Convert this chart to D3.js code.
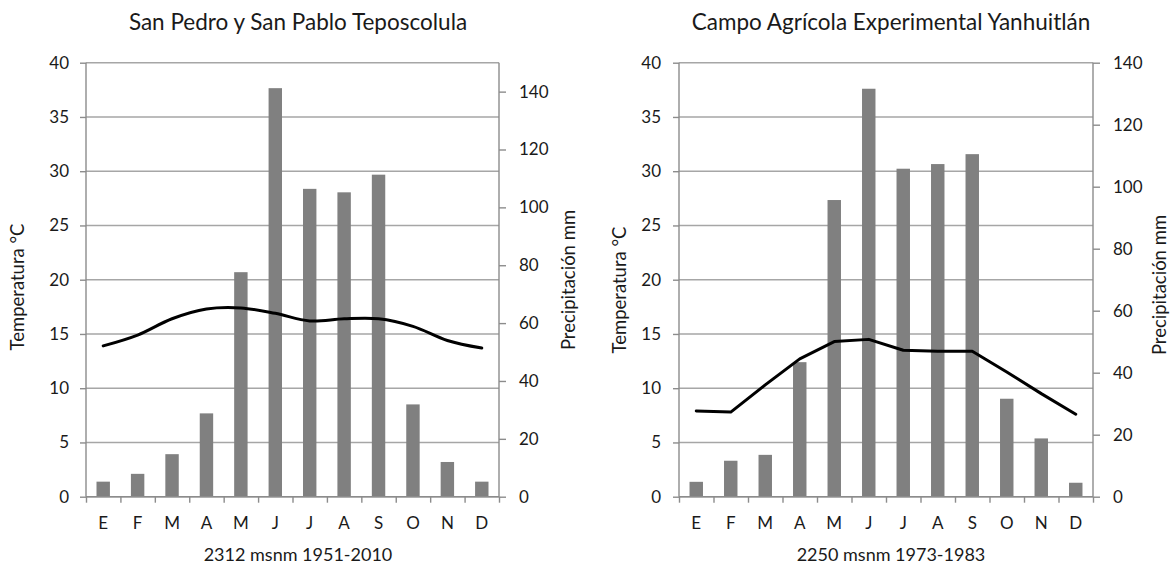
<!DOCTYPE html>
<html><head><meta charset="utf-8">
<script src="https://cdn.jsdelivr.net/npm/d3@7"></script>
<style>body{margin:0;background:#fff}svg{display:block}text{font-family:Lato,"Open Sans",sans-serif;fill:#1a1a1a}</style>
</head><body><svg id="c" width="1172" height="566"></svg>
<script>
const months = ["E","F","M","A","M","J","J","A","S","O","N","D"];
const tempTicks = [0,5,10,15,20,25,30,35,40];

const title1 = "San Pedro y San Pablo Teposcolula";
const subtitle1 = "2312 msnm 1951-2010";
const precip1 = [5.2,7.9,14.7,28.8,77.6,141.2,106.4,105.2,111.3,31.9,12.0,5.2];
const temp1 = [13.9,14.9,16.4,17.3,17.4,16.9,16.2,16.4,16.4,15.7,14.4,13.7];
const precipTicks1 = [0,20,40,60,80,100,120,140];
const precipMax1 = 150;

const title2 = "Campo Agrícola Experimental Yanhuitlán";
const subtitle2 = "2250 msnm 1973-1983";
const precip2 = [4.8,11.6,13.5,43.4,95.7,131.6,105.8,107.3,110.5,31.6,18.8,4.5];
const temp2 = [7.9,7.8,10.3,12.7,14.3,14.5,13.5,13.4,13.4,11.5,9.5,7.6];
const precipTicks2 = [0,20,40,60,80,100,120,140];
const precipMax2 = 140;

const svg = d3.select("#c");
const plotTop = 62.7, plotBottom = 496.7;

function chart(cfg){
  const g = svg.append("g");
  const x = d3.scaleBand().domain(d3.range(12)).range([cfg.x0, cfg.x1]).paddingInner(0.61).paddingOuter(0.305);
  const yT = d3.scaleLinear().domain([0,40]).range([plotBottom, plotTop]);
  const yP = d3.scaleLinear().domain([0,cfg.pmax]).range([plotBottom, plotTop]);
  g.append("g").selectAll("line").data(tempTicks).join("line")
    .attr("x1",cfg.x0).attr("x2",cfg.x1).attr("y1",d=>yT(d)).attr("y2",d=>yT(d))
    .attr("stroke","#a6a6a6").attr("stroke-width",1.4);
  g.append("g").selectAll("rect").data(cfg.precip).join("rect")
    .attr("x",(d,i)=>x(i)).attr("width",x.bandwidth())
    .attr("y",d=>yP(d)).attr("height",d=>plotBottom-yP(d)).attr("fill","#808080");
  const la = g.append("g").attr("transform",`translate(${cfg.x0},0)`)
    .call(d3.axisLeft(yT).tickValues(tempTicks).tickSize(6).tickPadding(cfg.lpad));
  const ra = g.append("g").attr("transform",`translate(${cfg.x1},0)`)
    .call(d3.axisRight(yP).tickValues(cfg.pticks).tickSize(7).tickPadding(13));
  ra.select(".domain").attr("d",`M0,${plotBottom}V${plotTop}`);
  la.select(".domain").attr("d",`M0,${plotBottom}V${plotTop}`);
  const xb = d3.scaleLinear().domain([0,12]).range([cfg.x0,cfg.x1]);
  const ba = g.append("g").attr("transform",`translate(0,${plotBottom})`)
    .call(d3.axisBottom(xb).ticks(12).tickSize(6).tickFormat(""));
  ba.select(".domain").attr("d",`M${cfg.x0},0H${cfg.x1}`);
  g.append("g").selectAll("text").data(months).join("text")
    .attr("x",(d,i)=>x(i)+x.bandwidth()/2).attr("y",529).attr("text-anchor","middle")
    .attr("font-size",17).text(d=>d);
  [la,ra,ba].forEach(a=>{
    a.selectAll(".domain, line").attr("stroke","#8c8c8c").attr("stroke-width",1.4);
    a.selectAll("text").attr("font-size",17).style("font-family","Lato").attr("fill","#1a1a1a");
  });
  g.append("path").datum(cfg.temp)
    .attr("d", d3.line().x((d,i)=>x(i)+x.bandwidth()/2).y(d=>yT(d)).curve(cfg.curve))
    .attr("fill","none").attr("stroke","#000").attr("stroke-width",3).attr("stroke-linejoin","round").attr("stroke-linecap","round");
  g.append("text").attr("x",cfg.tx).attr("y",30).attr("text-anchor","middle").attr("font-size",22.5).text(cfg.title);
  g.append("text").attr("x",cfg.tx).attr("y",561).attr("text-anchor","middle").attr("font-size",18).text(cfg.subtitle);
  g.append("text").attr("transform",`translate(${cfg.lx},${cfg.ly}) rotate(-90)`).attr("text-anchor","middle").attr("font-size",18.5).text("Temperatura °C");
  g.append("text").attr("transform",`translate(${cfg.rx},${cfg.ry}) rotate(-90)`).attr("text-anchor","middle").attr("font-size",18.5).text("Precipitación mm");
}

chart({x0:86,x1:499,pmax:precipMax1,pticks:precipTicks1,precip:precip1,temp:temp1,curve:d3.curveCatmullRom.alpha(0.5),
  title:title1,subtitle:subtitle1,tx:298,lx:24,ly:287,rx:575,ry:280,lpad:11});
chart({x0:679,x1:1093,pmax:precipMax2,pticks:precipTicks2,precip:precip2,temp:temp2,curve:d3.curveLinear,
  title:title2,subtitle:subtitle2,tx:891,lx:626,ly:290,rx:1166,ry:285,lpad:12});
</script></body></html>
